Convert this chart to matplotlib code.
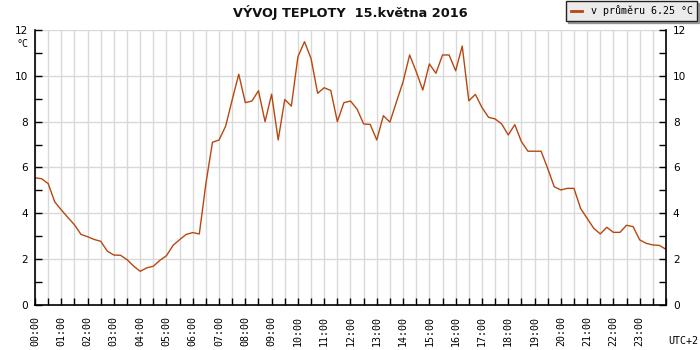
import numpy as np
import matplotlib
matplotlib.use("Agg")
import matplotlib.pyplot as plt
from matplotlib.ticker import MultipleLocator

# temperature every 15 minutes, 00:00 .. 24:00
temps = [5.55, 5.51, 5.30, 4.50, 4.15, 3.82, 3.50, 3.08, 2.98, 2.86, 2.78, 2.35,
         2.18, 2.17, 1.98, 1.70, 1.47, 1.62, 1.69, 1.95, 2.15, 2.60, 2.85, 3.08,
         3.16, 3.10, 5.30, 7.10, 7.20, 7.80, 8.95, 10.07, 8.83, 8.90, 9.35, 8.00,
         9.20, 7.20, 8.97, 8.68, 10.83, 11.49, 10.75, 9.24, 9.48, 9.36, 8.00, 8.83,
         8.90, 8.55, 7.90, 7.88, 7.20, 8.26, 7.98, 8.87, 9.74, 10.91, 10.18, 9.38,
         10.52, 10.11, 10.91, 10.91, 10.22, 11.30, 8.91, 9.19, 8.62, 8.19, 8.12, 7.90,
         7.42, 7.87, 7.13, 6.71, 6.71, 6.71, 5.96, 5.16, 5.02, 5.09, 5.09, 4.22,
         3.78, 3.35, 3.10, 3.39, 3.17, 3.17, 3.48, 3.42, 2.84, 2.69, 2.62, 2.60, 2.43]
step_hours = 0.25
hour_labels = [f"{h:02d}:00" for h in range(24)]
title = "VÝVOJ TEPLOTY  15.května 2016"
legend_label = "v průměru 6.25 °C"

hours = np.arange(len(temps)) * step_hours
line_color = "#B8470F"
mono = "DejaVu Sans Mono"
fs = 7.2

fig = plt.figure(figsize=(7, 3.5), dpi=100)
ax = fig.add_axes([0.05, 0.1286, 0.9014, 0.7857])

ax.plot(hours, temps, color=line_color, lw=1.0)

ax.set_xlim(0, 24)
ax.set_ylim(0, 12)
ax.xaxis.set_minor_locator(MultipleLocator(0.5))
ax.yaxis.set_major_locator(MultipleLocator(2))
ax.yaxis.set_minor_locator(MultipleLocator(1))
ax.set_xticks(range(24))
ax.set_xticklabels(hour_labels, rotation=90, family=mono, fontsize=fs)
ax.tick_params(axis="both", which="both", direction="in", length=5, width=1)
ax.tick_params(axis="y", which="both", right=True, labelright=True, pad=5,
               labelsize=7.6)
ax.tick_params(axis="x", pad=8, labelsize=fs)

ax.grid(True, axis="x", which="both", color="#d9d9d9", lw=1)
ax.grid(True, axis="y", which="major", color="#d9d9d9", lw=1)
ax.set_axisbelow(True)
ax.spines["top"].set_visible(False)
for s in ["left", "right", "bottom"]:
    ax.spines[s].set_linewidth(1.2)

fig.text(0.5, 0.965, title, ha="center", va="center", fontsize=9.3,
         fontweight="bold", color="#111111")
fig.text(0.024, 0.875, "°C", family=mono, fontsize=fs, ha="left", va="center")
fig.text(0.998, 0.01, "UTC+2", family=mono, fontsize=fs, ha="right", va="bottom")

leg = ax.legend([ax.lines[0]], [legend_label], loc="upper right",
                bbox_to_anchor=(0.996, 0.997), bbox_transform=fig.transFigure,
                prop={"family": mono, "size": fs}, frameon=True, fancybox=False,
                shadow={"ox": 1.5, "oy": -1.5, "color": "#555555"},
                handlelength=1.1, borderpad=0.45, handletextpad=0.9,
                borderaxespad=0)
leg.get_frame().set_facecolor("#ebebeb")
leg.get_frame().set_edgecolor("#222222")
leg.get_frame().set_alpha(1)
leg.get_lines()[0].set_linewidth(2)

fig.savefig("out.png", dpi=100)
